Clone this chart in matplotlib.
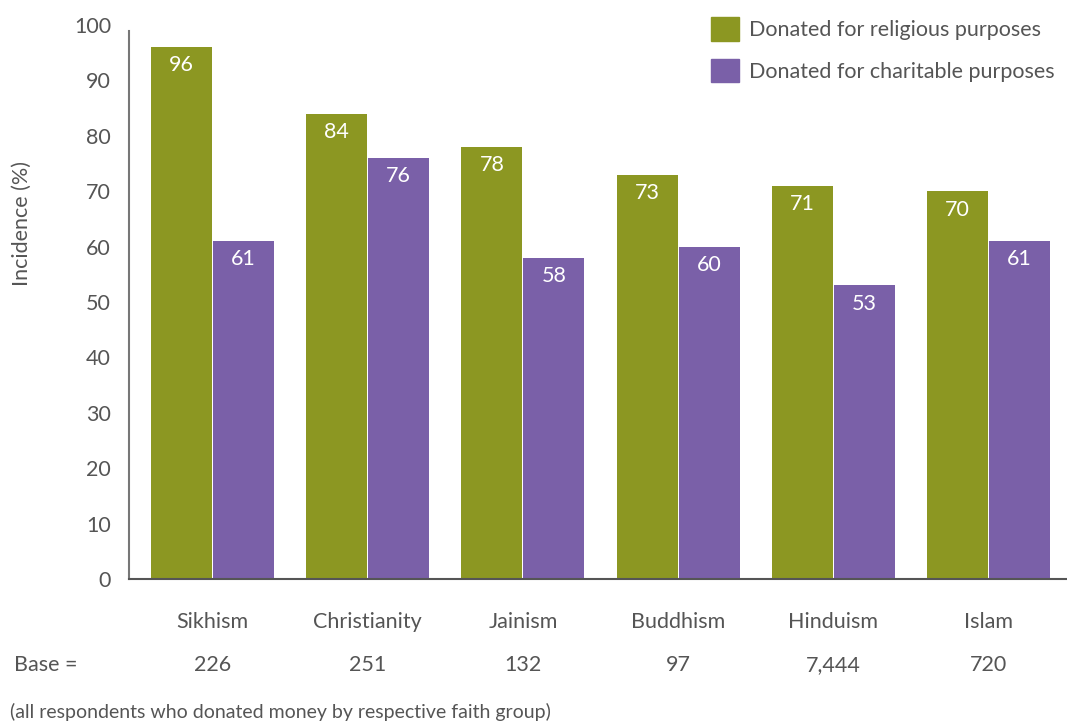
import numpy as np
import matplotlib.pyplot as plt
from matplotlib.patches import Patch
import matplotlib.transforms as mtransforms

faiths = ['Sikhism', 'Christianity', 'Jainism', 'Buddhism', 'Hinduism', 'Islam']
religious = [96, 84, 78, 73, 71, 70]
charitable = [61, 76, 58, 60, 53, 61]
base = ['226', '251', '132', '97', '7,444', '720']

green = '#8c9722'
purple = '#7a60a8'
grey = '#555555'

plt.rcParams['font.family'] = ['Lato', 'DejaVu Sans']

fig = plt.figure(figsize=(10.67, 7.26), dpi=100)
ax = fig.add_axes([129/1067, 1 - 579/726, 1 - 129/1067, (579 - 25)/726])

x = np.arange(len(faiths))
w = 0.393
b1 = ax.bar(x - w/2 - 0.003, religious, w, color=green)
b2 = ax.bar(x + w/2 + 0.003, charitable, w, color=purple)

for bars, vals in [(b1, religious), (b2, charitable)]:
    for rect, v in zip(bars, vals):
        ax.annotate(str(v), (rect.get_x() + rect.get_width()/2, v),
                    xytext=(0, -6), textcoords='offset points',
                    ha='center', va='top', color='white', fontsize=15.5)

ax.set_xlim(-0.538, 5.506)
ax.set_ylim(0, 100)
ax.set_yticks(range(0, 101, 10))
ax.tick_params(axis='y', length=0, pad=13, labelsize=15.5, labelcolor=grey)
ax.set_xticks(x)
ax.set_xticklabels(faiths)
ax.tick_params(axis='x', length=0, pad=23.5, labelsize=15.5, labelcolor=grey)

for s in ['top', 'right']:
    ax.spines[s].set_visible(False)
ax.spines['left'].set_bounds(0, 99)
ax.spines['left'].set_color('#777777')
ax.spines['left'].set_linewidth(1.5)
ax.spines['bottom'].set_color('#555555')
ax.spines['bottom'].set_linewidth(1.5)

fig.text(22/1067, 1 - 224/726, 'Incidence (%)', rotation=90, ha='center', va='center',
         fontsize=15.5, color=grey)

trans = mtransforms.blended_transform_factory(ax.transData, fig.transFigure)
for xi, bv in zip(x, base):
    ax.text(xi, 1 - 665/726, bv, transform=trans, ha='center', va='center',
            fontsize=15.5, color=grey)
fig.text(14/1067, 1 - 665/726, 'Base =', ha='left', va='center', fontsize=15.5, color=grey)
fig.text(10/1067, 1 - 712/726, '(all respondents who donated money by respective faith group)',
         ha='left', va='center', fontsize=14, color=grey)

handles = [Patch(color=green, label='Donated for religious purposes'),
           Patch(color=purple, label='Donated for charitable purposes')]
fig.legend(handles=handles, loc='upper left', bbox_to_anchor=(696/1067, 1 - 2/726),
           frameon=False, fontsize=15.5, handlelength=1.3, handleheight=1.3,
           handletextpad=0.45, labelspacing=0.85, borderpad=0.2, labelcolor=grey)

plt.savefig('out.png', dpi=100)
